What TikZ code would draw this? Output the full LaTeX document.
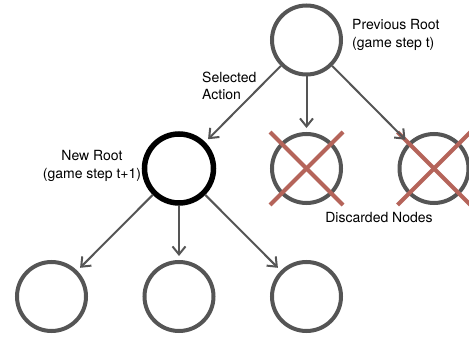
\documentclass[tikz,border=0pt]{standalone}
\usepackage{fontspec}
\setmainfont{TeX Gyre Heros}
\usepackage{tikz}
\usetikzlibrary{arrows.meta}
\definecolor{nodegray}{HTML}{555555}
\definecolor{crossred}{HTML}{B5645A}

\begin{document}
\begin{tikzpicture}[x=1pt,y=-1pt,
  tree/.style={circle,draw=nodegray,line width=4pt,minimum size=69pt,inner sep=0pt},
  root/.style={tree,draw=black,line width=5.5pt},
  lab/.style={font=\fontsize{14}{17.5}\selectfont,inner sep=0pt},
  cross/.style={draw=crossred,line width=4pt},
  >={Straight Barb[length=8pt,width=13pt]}]
\useasboundingbox (0,0) rectangle (469,337);
\node[tree] (P) at (306.5,40) {};
\node[root] (R) at (179,168.5) {};
\node[tree] (D1) at (306.5,168.5) {};
\node[tree] (D2) at (434,168.5) {};
\node[tree] (C1) at (51.5,296.5) {};
\node[tree] (C2) at (179,296.5) {};
\node[tree] (C3) at (306.5,296.5) {};
\node[lab,align=left,anchor=west] (Pl) at (352,35) {Previous Root\\(game step t)};
\node[lab,align=left,anchor=west] (Sl) at (202,86) {Selected\\Action};
\node[lab,align=center] (Rl) at (92,166) {New Root\\(game step t+1)};
\node[lab] (Dl) at (379,218) {Discarded Nodes};
\draw[cross] (D1) +(-36.5,-36.5) -- +(36.5,36.5);
\draw[cross] (D1) +(36.5,-36.5) -- +(-36.5,36.5);
\draw[cross] (D2) +(-36.5,-36.5) -- +(36.5,36.5);
\draw[cross] (D2) +(36.5,-36.5) -- +(-36.5,36.5);
\path[->,draw=nodegray,line width=2pt,shorten >=4pt]
(P) edge (R)
(P) edge (D1)
(P) edge (D2)
(R) edge (C1)
(R) edge (C2)
(R) edge (C3);
\end{tikzpicture}
\end{document}
